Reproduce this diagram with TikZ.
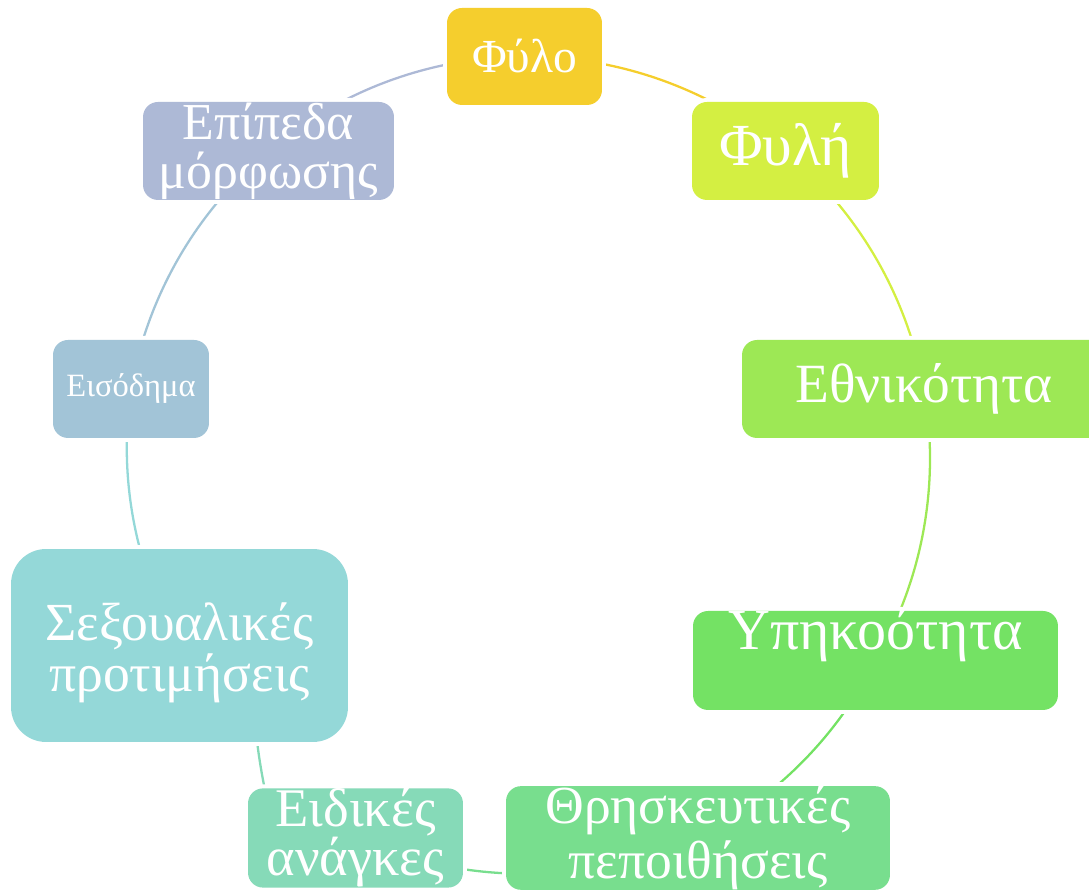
\documentclass[tikz,border=0pt]{standalone}
\usepackage{fontspec}
\setmainfont{Liberation Serif}
\usetikzlibrary{backgrounds}
\definecolor{cfylo}{HTML}{F5CE2D}
\definecolor{cfyli}{HTML}{D4EF42}
\definecolor{cethn}{HTML}{9DE855}
\definecolor{cypik}{HTML}{74E264}
\definecolor{cthris}{HTML}{78DE8E}
\definecolor{ceidik}{HTML}{86DAB8}
\definecolor{csexou}{HTML}{94D8D8}
\definecolor{ceisod}{HTML}{A2C4D7}
\definecolor{cepip}{HTML}{ADB9D6}
\begin{document}
\begin{tikzpicture}[x=0.02cm, y=0.02cm,
        box/.style={fill=#1, preaction={draw=white, line width=0.16cm}, rounded corners=0.3cm, text=white, align=center, inner sep=0pt},
        arc/.style={draw=#1, line width=1.3pt, looseness=0.88}]
        \useasboundingbox (0,0) rectangle (1089,891);
        \clip (0,0) rectangle (1089,891);
        % Draw the boxes
        \node[box=cfylo, minimum width=3.1cm, minimum height=1.94cm, font=\fontsize{27}{30}\selectfont] (fylo) at (524.5, 834.5) {Φύλο};
        \node[box=cfyli, minimum width=3.74cm, minimum height=1.96cm, font=\fontsize{34}{36}\selectfont] (fyli) at (785.5, 740) {Φυλή};
        \node[box=cethn, minimum width=7.28cm, minimum height=1.96cm, font=\fontsize{31.5}{34}\selectfont] (ethn) at (924, 502) {Εθνικότητα};
        \node[box=cypik, minimum width=7.3cm, text height=0.78cm, text depth=1.2cm, font=\fontsize{33}{36}\selectfont] (ypik) at (875.5, 230.5) {Υπηκοότητα};
        \node[box=cthris, minimum width=7.68cm, minimum height=1.96cm, font=\fontsize{30.5}{31}\selectfont] (thris) at (698, 53) {Θρησκευτικές\\πεποιθήσεις};
        \node[box=ceidik, minimum width=4.3cm, minimum height=1.96cm, font=\fontsize{31}{28}\selectfont] (eidik) at (355.5, 53) {Ειδικές\\ανάγκες};
        \node[box=csexou, rounded corners=0.7cm, minimum width=6.74cm, text height=2.86cm, text depth=1.0cm, font=\fontsize{30.5}{29.5}\selectfont] (sexou) at (179.5, 245.5) {Σεξουαλικές\\προτιμήσεις};
        \node[box=ceisod, minimum width=3.12cm, minimum height=1.96cm, font=\fontsize{18.5}{20}\selectfont] (eisod) at (131, 502) {Εισόδημα};
        \node[box=cepip, minimum width=5.02cm, minimum height=1.96cm, font=\fontsize{29.5}{28}\selectfont] (epip) at (268.5, 740) {Επίπεδα\\μόρφωσης};
        % Draw the arcs behind the boxes
        \begin{scope}[on background layer]
            \draw[arc=cfylo] (fylo.center) to[bend left=20] (fyli.center);
            \draw[arc=cfyli] (fyli.center) to[bend left=20] (ethn.center);
            \draw[arc=cethn] (ethn.center) to[bend left=20] (ypik.center);
            \draw[arc=cypik] (ypik.center) to[bend left=18] (thris.center);
            \draw[arc=cthris] (thris.center) to[bend left=24] (eidik.center);
            \draw[arc=ceidik] ([xshift=0.38cm, yshift=-0.2cm]eidik.north west) to[bend left=3] ([xshift=1.53cm, yshift=0.2cm]sexou.south);
            \draw[arc=csexou] (sexou.center) to[bend left=19] (eisod.center);
            \draw[arc=ceisod] (eisod.center) to[bend left=20] (epip.center);
            \draw[arc=cepip] (epip.center) to[bend left=20] (fylo.center);
        \end{scope}
    \end{tikzpicture}
\end{document}
